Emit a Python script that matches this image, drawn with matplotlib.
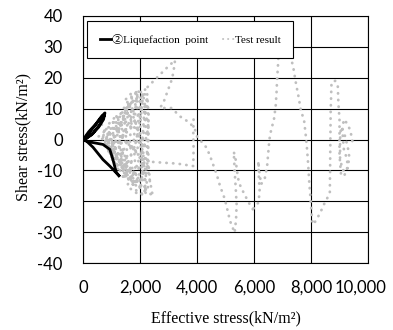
import numpy as np
import matplotlib
matplotlib.use("Agg")
import matplotlib.pyplot as plt
import matplotlib.transforms as mtransforms
from matplotlib.lines import Line2D
from matplotlib.ticker import FuncFormatter

plt.rcParams['axes.unicode_minus'] = False

SERIF = ['Liberation Serif', 'Noto Sans CJK JP', 'DejaVu Serif']
SANS = ['Lato', 'DejaVu Sans']

# test result: effective stress (kN/m2) and shear stress (kN/m2), drawn in pieces
# first cycles at high effective stress and the big loop around 7,000-9,000
right_sigma = [9450, 9380, 9250, 9150, 9100, 9150, 9250, 9300, 9200, 9100, 9020, 9020,
               9050, 9200, 9300, 9350, 9250, 9150, 9050, 9000, 9000, 8960, 8940, 8850,
               8720, 8690, 8680, 8670, 8660, 8570, 8480, 8380, 8250, 8120, 8060, 8030,
               7990, 7940, 7900, 7860, 7820, 7760, 7640, 7560, 7470, 7390, 7300, 7200,
               7080, 6950, 6870, 6840, 6810, 6790, 6760, 6700, 6600, 6540, 6500, 6460,
               6380, 6250, 6180, 6150, 6170, 6200, 6150, 6050, 5960]
right_tau = [-0.5, 3, 5.4, 6.5, 3, -3, -6, -9, -10.5, -9.7, -6, 0,
             4, 1, -3, -6, -10, -12, -11, -5, 6.5, 12, 17.3, 19,
             18.5, 9, 0, -10, -17, -19, -20.5, -22.6, -25, -27, -27.5, -25,
             -20, -14, -8, -3, 1, 6, 9.7, 14, 18.3, 22.7, 26.5, 29.5,
             33, 33.5, 29, 23.7, 19.4, 15, 10.8, 6.5, 3, 0, -4.3, -8.7,
             -12.5, -14.5, -10, -7, -12, -17, -20.5, -21.5, -22.6]

# V around 5,300 and the way back up to the lobe near 3,000
v_sigma = [5960, 5820, 5650, 5470, 5400, 5350, 5290, 5320, 5360, 5390, 5370, 5320,
           5160, 4980, 4810, 4690, 4460, 4340, 3990, 3930, 3750, 3400, 3110, 2700,
           2820, 2990, 3100, 3170, 3230, 2940, 2590, 2180]
v_tau = [-22.6, -20.5, -17.5, -14, -10, -6, -4, -10, -16, -21, -26, -30.2,
         -26.4, -19.4, -15.1, -11.3, -5.4, -2.7, 1.1, 3.2, 5.4, 7.5, 10.2, 10.2,
         11.9, 16.2, 19, 21.6, 25.7, 23.2, 20, 16.2]

# excursion along -7.5 out to 3,900 and up
ledge_sigma = [2050, 2350, 2800, 3300, 3870, 3880, 3870, 3880]
ledge_tau = [-9, -7.2, -7.5, -7.8, -8.6, -3, 2, 6.5]

# dense cycling below 2,500
cluster_sigma = [2180, 1950, 1650, 1300, 1450, 1750, 2050, 2300, 2450, 2300, 2250, 2200,
                 2150, 1900, 1700, 1500, 1200, 1000, 1200, 1500, 1800, 2150, 2250, 2300,
                 2280, 2200, 1950, 1800, 1550, 1250, 1350, 1650, 1950, 2100, 2050, 2000,
                 2050, 1850, 1600, 1400, 1100, 1000, 1300, 1600, 1900, 2200, 2150, 2100,
                 2150, 2250, 2050, 1750, 1500, 1300, 1050, 950, 1150, 1450, 1750, 2000,
                 1950, 1900, 1950, 2000, 1700, 1450, 1250, 1100, 1250, 1550, 1850, 1800,
                 1800, 1850, 1600, 1350, 1150, 1050, 1300, 1600, 1800, 1700, 1650, 1700,
                 1500, 1250, 1000, 900, 1050, 1350, 1500, 1550, 1500, 1450, 1200, 950,
                 850, 1100, 1350, 1450, 1350, 1300, 1200, 950, 800, 900, 1150, 1250,
                 1100, 1000, 850, 700, 800, 1000, 900, 700, 550]
cluster_tau = [16.2, 11, 6, 1, -5, -11, -15, -17, -18.4, -11, -3, 5,
               12, 14, 12, 7, 2, 0, -4, -9, -13, -16, -8, 1,
               10, 14.5, 15.5, 10, 4, -1, -6, -10, -12, -14, -6, 3,
               10, 13, 11, 6, 1, -2, -7, -12, -17, -18, -10, -2,
               6, 13, 15, 14, 10, 5, 2, 0, -5, -10, -14, -16,
               -8, 0, 8, 13, 12, 8, 3, -2, -6, -9, -11, -4,
               4, 11, 9, 6, 2, -3, -8, -13, -15, -7, 0, 7,
               9, 7, 3, 0, -4, -9, -12, -5, 2, 7, 5, 2,
               -1, -6, -11, -13, -6, 1, 4, 3, 0, -4, -8, -10,
               -4, 0, 2, 1, -2, -5, -1, 0, 1]

# later cycles packed into the same band, closing in toward the origin
late_sigma = [550, 800, 1100, 1400, 1700, 2000, 2250, 2300, 2280, 2300, 2350, 2200,
              1950, 1650, 1350, 1100, 1300, 1600, 1900, 2150, 2100, 2050, 2100, 1850,
              1600, 1400, 1200, 1450, 1750, 2000, 2200, 2000, 1800, 1550, 1300, 1150,
              1350, 1700, 2000, 2250, 2000, 1700, 1450, 1250, 1450, 1800, 2150, 2300,
              2150, 1900, 1600, 1350, 1500, 1900, 2200, 1950, 1600, 1300, 1050, 1250,
              1600, 1950, 2250, 2100, 1800, 1550, 1800, 2050, 2250, 2100, 1900, 1700,
              1500, 1750, 2100, 2000, 1850, 1650, 1500, 1200, 900, 700, 900, 1200,
              1000, 800, 1000, 1150, 950, 750, 650]
late_tau = [1, 3, 6, 9, 12, 14, 15, 8, 0, -8, -14, -17,
            -15, -12, -8, -4, 0, 3, 6, 9, 2, -5, -12, -14,
            -10, -5, -1, 2, 5, 9, 12, 16, 15, 12, 8, 4,
            1, -2, -6, -10, -12, -14, -11, -6, -3, 0, -2, 4,
            10, 11, 8, 3, -1, -4, -6, -9, -7, -3, 1, 5,
            6, 3, -4, -9, -10, -15, -17, -18, -15, -4, 4, 9,
            13, 15.5, 13, 6, -1, -6, -9, -6, -3, 1, 5, 8,
            4, 0, -6, -9, -2, 3, 5]

# liquefaction point path
liq_sigma = [1260, 940, 700, 350, 30, 200, 450, 650, 770, 720, 550, 300,
             30, 250, 500, 700, 760, 600, 350, 30, 350, 700, 940, 1050, 1170, 1260]
liq_tau = [-11.7, -8.6, -6.5, -2.5, 0.3, 2.5, 5, 7.5, 8.6, 6.5, 4, 1.5,
           0, 2.5, 5.5, 7.8, 8, 5, 2, -0.3, -1, -1.6, -3.2, -6.5, -10.7, -11.7]

xticks = [0, 2000, 4000, 6000, 8000, 10000]
yticks = [-40, -30, -20, -10, 0, 10, 20, 30, 40]

gray = '#bfbfbf'
dot_style = dict(color=gray, lw=2.0, linestyle=(0, (0.1, 2.3)),
                 dash_capstyle='round', solid_capstyle='round', zorder=2)

fig = plt.figure(figsize=(3.93, 3.30), dpi=100)
ax = fig.add_axes([83 / 393, 67 / 330, 285 / 393, 247 / 330])

for xs, ys in [(right_sigma, right_tau), (v_sigma, v_tau), (ledge_sigma, ledge_tau),
               (cluster_sigma, cluster_tau), (late_sigma, late_tau)]:
    ax.plot(xs, ys, **dot_style)

ax.plot(liq_sigma, liq_tau, color='black', lw=2.0, solid_joinstyle='round', zorder=3)

ax.set_xlim(0, 10000)
ax.set_ylim(-40, 40)
ax.set_xticks(xticks)
ax.set_yticks(yticks)
ax.xaxis.set_major_formatter(FuncFormatter(lambda v, _: f"{v:,.0f}"))
ax.yaxis.set_major_formatter(FuncFormatter(lambda v, _: f"{v:.0f}"))
ax.tick_params(length=0, labelsize=12)
ax.tick_params(axis='x', pad=12)
ax.tick_params(axis='y', pad=14.5)
for lbl in ax.get_xticklabels() + ax.get_yticklabels():
    lbl.set_family(SANS)

ax.grid(True, color='black', lw=0.8)
ax.set_axisbelow(True)
for sp in ax.spines.values():
    sp.set_color('black')
    sp.set_linewidth(0.8)

# last x label pulled in so it stays on the canvas
last = ax.xaxis.get_major_ticks()[-1].label1
last.set_transform(last.get_transform() +
                   mtransforms.ScaledTranslation(-7 / 100, 0, fig.dpi_scale_trans))

fig.text(23 / 393, 1 - 137 / 330, 'Shear stress(kN/m²)', rotation=90,
         ha='center', va='center', family=SERIF, size=11.5)
fig.text(226 / 393, 1 - 318 / 330, 'Effective stress(kN/m²)',
         ha='center', va='center', family=SERIF, size=11.5)

h_liq = Line2D([], [], color='black', lw=2.0)
h_test = Line2D([], [], color=gray, lw=1.4, linestyle=(0, (0.1, 2.5)),
                dash_capstyle='round')
leg = ax.legend([h_liq, h_test], ['②Liquefaction  point', 'Test result'],
                loc='upper left', bbox_to_anchor=(4 / 285, 242 / 247),
                borderaxespad=0, ncol=2, fancybox=False, framealpha=1,
                edgecolor='black', handlelength=1.0, handletextpad=0.1,
                columnspacing=1.3, borderpad=1.15,
                prop={'family': SERIF, 'size': 8})
leg.get_frame().set_linewidth(0.8)
leg.set_zorder(5)

fig.savefig('out.png', dpi=100)
